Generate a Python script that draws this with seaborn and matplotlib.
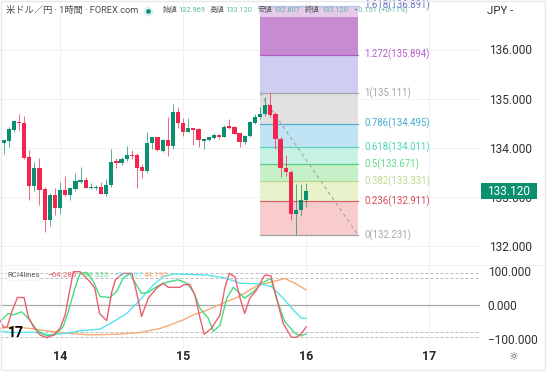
import matplotlib
matplotlib.use("Agg")
import matplotlib.pyplot as plt
from matplotlib.patches import Rectangle
import numpy as np
import pandas as pd
import seaborn as sns

# hourly candles, hour 0 = 14th 00:00
opens = [134.09,134.14,134.36,134.53,134.50,133.81,133.22,133.60,133.16,132.53,133.04,132.78,133.14,133.04,133.16,133.31,133.35,133.18,133.18,133.20,
         133.07,133.24,133.73,133.69,133.77,133.85,133.85,133.62,133.54,134.09,134.22,133.94,134.16,134.04,134.73,134.50,134.33,134.40,134.38,134.15,
         134.17,134.21,134.26,134.23,134.43,134.42,134.30,134.13,134.25,134.51,134.63,134.68,134.88,134.68,134.19,133.59,133.52,132.65,132.73,132.95]
highs = [134.17,134.42,134.57,134.69,134.65,133.96,133.72,133.80,133.21,133.09,133.19,133.31,133.43,133.19,133.48,133.62,133.40,133.28,133.24,133.31,
         133.36,133.97,133.80,133.82,134.03,133.96,133.89,133.68,134.33,134.22,134.22,134.19,134.63,134.89,134.84,134.60,134.60,134.40,134.40,134.19,
         134.23,134.31,134.28,134.47,134.59,134.44,134.31,134.26,134.54,134.69,134.84,135.04,135.11,134.72,134.23,133.85,133.55,133.26,133.26,133.29]
lows = [133.88,134.01,134.33,134.36,133.77,132.95,133.13,132.83,132.30,132.42,132.63,132.65,133.02,132.95,133.12,133.29,133.18,133.16,133.14,133.06,
        133.03,133.21,133.60,133.65,133.74,133.78,133.18,133.38,133.48,133.98,133.94,133.92,133.84,133.98,134.40,134.24,134.32,134.06,134.02,133.98,
        134.15,134.19,134.19,134.22,134.38,134.28,134.02,134.08,134.23,134.48,134.58,134.65,134.63,133.97,133.40,133.43,132.53,132.23,132.61,132.80]
closes = [134.16,134.38,134.54,134.50,133.80,133.22,133.60,133.14,132.53,133.04,132.78,133.14,133.04,133.18,133.33,133.35,133.19,133.21,133.20,133.07,
          133.24,133.72,133.70,133.77,133.85,133.83,133.60,133.54,134.09,134.22,133.95,134.16,134.04,134.73,134.50,134.33,134.40,134.37,134.16,134.18,
          134.22,134.26,134.23,134.43,134.41,134.29,134.13,134.25,134.53,134.63,134.68,134.87,134.66,134.19,133.59,133.52,132.65,132.73,132.95,133.12]
first_hour = -11

fib_levels = ["0", "0.236", "0.382", "0.5", "0.618", "0.786", "1", "1.272", "1.618"]
fib_prices = [132.231, 132.911, 133.331, 133.671, 134.011, 134.495, 135.111, 135.894, 136.891]
fib_line_colors = ["#a0a0a0", "#d9646e", "#b5d68c", "#55cf7f", "#5fd3b5", "#55aed2", "#a5a5a5", "#b05cc4", "#6a70c8"]
fib_fill_colors = ["#f8cccc", "#e9f3cb", "#c6f0c8", "#c8f1e6", "#c0e4f3", "#e0e0e0", "#cecef3", "#c78bd1"]
fib_label_colors = ["#a8a8a8", "#d9485f", "#bcd98e", "#5ed98a", "#4fd6b8", "#45aad2", "#a5a5a5", "#b65fca", "#6a70c8"]

price_ticks = [132, 133, 134, 135, 136]
rci_ticks = [-100, 0, 100]
day_ticks = [0, 24, 48, 72]
day_labels = ["14", "15", "16", "17"]

red_h = [-11.7,-11,-10.3,-9.4,-8.3,-7,-6.2,-5.2,-3.9,-2.6,-1.3,0,1,1.6,2.6,3.9,5.8,6.8,7.7,9.1,10.1,10.8,12.3,14,14.9,15.9,17.2,18.8,20.1,21.1,23.4,24,25.3,26.3,27.3,28.1,29.5,31.2,32.1,33,34.1,35.1,36,37,38.3,39.9,41.1,42.2,43.5,45.1,46.1,47.1,48]
red_v = [-44,-66,-64,-20,22,22,-34,-64,-88,-96,-88,-69,-29,20,98,98,69,49,-25,-46,39,74,93,93,39,-34,20,49,64,52,52,59,61,29,-39,-86,-69,-29,49,93,83,20,-25,20,44,88,86,20,-54,-95,-95,-83,-64]
green_h = [-11.7,-10.1,-9.1,-7.5,-6.2,-4.5,-2.6,-1,.6,1.6,2.9,3.9,5.2,6.5,7.8,9.7,11,12.3,13.6,14.9,15.9,17.2,18.8,20.1,21.4,23.1,24.7,26,27.3,28.9,29.9,31.2,32.5,33.8,36,37.7,39.3,41.1,42.2,43.8,45.8,46.8,48]
green_v = [-49,-25,-29,-20,-39,-74,-91,-88,-64,-20,49,93,96,69,25,22,39,78,93,59,34,37,54,64,69,74,64,39,-10,-39,-78,-59,20,52,20,39,64,78,20,-49,-83,-91,-85]
cyan_h = [-11.7,-9.7,-5.2,-1.9,1.3,3.9,7.8,10.4,13,15.6,18.2,20.1,22.1,25.3,28.6,32.1,35.1,39,41.2,43.5,45.5,47.1,48]
cyan_v = [-76,-81,-80,-88,-83,-76,-71,-49,-25,15,59,83,91,90,88,80,64,62,54,20,-15,-39,-39]
orange_h = [-11.7,-9.1,-5.8,-2.6,1.3,5.8,11,15.6,19.5,21.4,24,26,27.9,31.2,34.9,38.3,41.6,43.8,45.8,48]
orange_v = [-69,-64,-69,-76,-83,-88,-86,-81,-69,-59,-44,-29,-20,2,25,56,69,78,64,44]

W, H = 546, 373
sns.set_theme(style="white")
plt.rcParams["font.family"] = ["Roboto", "Noto Sans CJK JP", "DejaVu Sans"]
fig = plt.figure(figsize=(W / 100, H / 100), dpi=100, facecolor="white")


def axes_px(x0, y0, x1, y1):
    return fig.add_axes([x0 / W, 1 - y1 / H, (x1 - x0) / W, (y1 - y0) / H])


ax = axes_px(0, 0, 480, 265)
ax2 = axes_px(0, 265, 480, 350)

GREEN = "#0a8f70"
RED = "#f2254e"
xlim = (-11.7, 81.87)

# fib block
fib_x0, fib_x1 = 39, 58.1
for i in range(len(fib_fill_colors)):
    ax.fill_between([fib_x0, fib_x1], fib_prices[i], fib_prices[i + 1], color=fib_fill_colors[i], lw=0, zorder=1)
for lev, p, lc, tc in zip(fib_levels, fib_prices, fib_line_colors, fib_label_colors):
    ax.plot([fib_x0, fib_x1], [p, p], color=lc, lw=0.9, zorder=2)
    ax.text(59.3, p, f"{lev}({p:.3f})", color=tc, fontsize=6.9, va="center", ha="left", zorder=6)
ax.plot([fib_x0, fib_x1], [fib_prices[6], fib_prices[0]], color="#9aa5a5", lw=0.8, ls=(0, (3, 3)), zorder=2)

# candles
hours = first_hour + np.arange(len(opens))
cols = [GREEN if c >= o else RED for o, c in zip(opens, closes)]
ax.vlines(hours, lows, highs, colors=cols, lw=0.7, alpha=0.7, zorder=3)
o = np.array(opens)
c = np.array(closes)
ax.bar(hours, np.maximum(np.abs(c - o), 0.03), bottom=np.minimum(o, c), width=0.82, color=cols, lw=0, zorder=4)

for a in (ax, ax2):
    a.set_xlim(xlim)
    a.set_facecolor("white")
    for s in a.spines.values():
        s.set_visible(False)
    for d in day_ticks:
        a.axvline(d, color="#f0f1f3", lw=0.7, zorder=0)

ax.set_ylim(136 - (265 - 49.5) / 49.2, 136 + 49.5 / 49.2)
for p in price_ticks:
    ax.axhline(p, color="#f0f1f3", lw=0.7, zorder=0)
ax.yaxis.tick_right()
ax.set_yticks(price_ticks, [f"{p:.3f}" for p in price_ticks])
ax.tick_params(axis="y", length=0, pad=6.5, labelsize=8.6, labelcolor="#2f3136")
ax.set_xticks([])

# RCI panel
frames = []
for name, hh, vv in [("short", red_h, red_v), ("mid", green_h, green_v), ("long", cyan_h, cyan_v), ("xlong", orange_h, orange_v)]:
    frames.append(pd.DataFrame({"hour": hh, "rci": vv, "line": name}))
rci = pd.concat(frames, ignore_index=True)
sns.lineplot(data=rci, x="hour", y="rci", hue="line", hue_order=["xlong", "long", "mid", "short"],
             palette={"short": "#ea6070", "mid": "#45dc80", "long": "#55e4ea", "xlong": "#f5ab76"},
             estimator=None, sort=False, lw=1.0, legend=False, ax=ax2, zorder=3)
ax2.set_ylim(-(350 - 305) / 0.34, (305 - 265) / 0.34)
ax2.axhline(0, color="#a8a8a8", lw=0.9, zorder=1)
for v in (95, 79, -79, -94):
    ax2.axhline(v, color="#b0b0b0", lw=0.6, ls=(0, (3.5, 2.5)), zorder=1)
ax2.set_xlabel("")
ax2.set_ylabel("")
ax2.yaxis.tick_right()
ax2.set_yticks(rci_ticks, ["\u2212100.000", "0.000", "100.000"])
ax2.tick_params(axis="y", length=0, pad=5.5, labelsize=8.6, labelcolor="#2f3136")
ax2.set_xticks(day_ticks, day_labels)
ax2.tick_params(axis="x", length=0, pad=0, labelsize=9)
for t in ax2.get_xticklabels():
    t.set_fontweight("bold")
    t.set_color("#26282c")

# overlays in pixel coords
ov = fig.add_axes([0, 0, 1, 1], facecolor="none")
ov.set_xlim(0, W)
ov.set_ylim(H, 0)
ov.axis("off")
ov.add_patch(Rectangle((260, 3), 98, 14, color="white", alpha=0.55, lw=0))

ov.text(6, 10.5, "米ドル／円 · 1時間 · FOREX.com", fontsize=6.7, color="#4a4d52", va="center")
ov.scatter([148], [10.5], s=48, color="#d5f3ec", lw=0)
ov.scatter([148], [10.5], s=11, color="#0a8f70", lw=0)
head = [(163, "始値", "#555"), (178, "132.969", "#5bb8a4"), (210, "高値", "#555"), (225, "133.120", "#5bb8a4"),
        (258, "安値", "#555"), (273, "132.807", "#5bb8a4"), (305, "終値", "#555"), (321, "133.120", "#5bb8a4"),
        (354, "+0.151 (+0.11%)", "#5bb8a4")]
for x, s, col in head:
    ov.text(x, 10.5, s, fontsize=5.3, color=col, va="center")

ov.text(487, 11, "JPY ‐", fontsize=8.2, color="#2f3136", va="center")
ov.add_patch(Rectangle((481, 183), 56, 16, color="#0a8f70", lw=0, zorder=5))
ov.text(509, 191.5, "133.120", fontsize=8.6, color="white", ha="center", va="center", zorder=6)

ov.add_patch(Rectangle((6, 269), 33, 11, facecolor="white", edgecolor="#d8d8d8", lw=0.5, ls=":"))
ov.text(7, 275, "RCI4lines", fontsize=5.6, color="#55585c", va="center")
for x, s, col in [(47, "−64.286", "#ea6070"), (79, "−89.333", "#66de8e"), (113, "−30.167", "#7fe6ea"), (144, "44.190", "#f5ab76")]:
    ov.text(x, 275, s, fontsize=5.8, color=col, va="center")

ov.text(8, 333, "17", fontsize=10, fontweight="bold", color="black", va="center")
ov.text(513, 357, "☼", fontsize=8, color="#555", ha="center", va="center", family="DejaVu Sans")
ov.add_patch(Rectangle((0.5, 0.5), 544.5, 369, facecolor="none", edgecolor="#e6e8ec", lw=1))
ov.plot([0, 545], [265, 265], color="#eef0f2", lw=0.8)

fig.savefig("out.png", dpi=100)
